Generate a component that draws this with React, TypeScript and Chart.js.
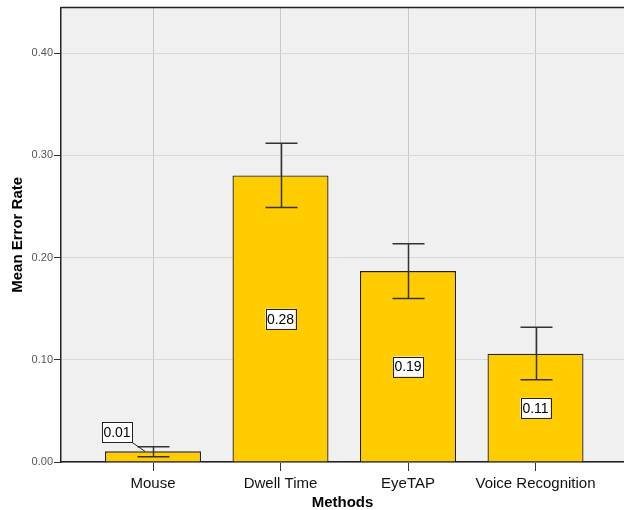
import React, { useEffect, useRef } from "react";
import { Chart, registerables } from "chart.js";

Chart.register(...registerables);

const categories = ["Mouse", "Dwell Time", "EyeTAP", "Voice Recognition"];
const means = [0.0104, 0.2803, 0.1868, 0.106];
const errLow = [0.0052, 0.249, 0.16, 0.0804];
const errHigh = [0.0149, 0.3118, 0.2135, 0.1318];
const yTicks = [0, 0.1, 0.2, 0.3, 0.4];

const FONT = "'Liberation Sans', Arial, sans-serif";

const bgPlugin = {
  id: "bgPlugin",
  beforeDraw(chart: any) {
    const { ctx, chartArea: a } = chart;
    ctx.save();
    ctx.fillStyle = "#f0f0f0";
    ctx.fillRect(a.left, a.top, a.right - a.left, a.bottom - a.top);
    ctx.restore();
  },
  afterDraw(chart: any) {
    const { ctx, chartArea: a } = chart;
    ctx.save();
    ctx.strokeStyle = "#222";
    ctx.lineWidth = 1.5;
    ctx.beginPath();
    ctx.moveTo(a.left, a.top);
    ctx.lineTo(a.right, a.top);
    ctx.stroke();
    ctx.restore();
  },
};

const errPlugin = {
  id: "errPlugin",
  afterDatasetsDraw(chart: any) {
    const { ctx } = chart;
    const xs = chart.scales.x;
    const ys = chart.scales.y;
    ctx.save();
    ctx.strokeStyle = "#333";
    ctx.lineWidth = 1.5;
    for (let i = 0; i < means.length; i++) {
      const x = Math.round(xs.getPixelForValue(i)) + 0.5;
      const yl = ys.getPixelForValue(errLow[i]);
      const yh = ys.getPixelForValue(errHigh[i]);
      ctx.beginPath();
      ctx.moveTo(x, yl);
      ctx.lineTo(x, yh);
      ctx.moveTo(x - 16, yl);
      ctx.lineTo(x + 16, yl);
      ctx.moveTo(x - 16, yh);
      ctx.lineTo(x + 16, yh);
      ctx.stroke();
    }
    // value labels
    ctx.font = "14px " + FONT;
    ctx.textAlign = "center";
    ctx.textBaseline = "middle";
    for (let i = 0; i < means.length; i++) {
      const text = means[i].toFixed(2);
      const bx = xs.getPixelForValue(i);
      let cx = bx;
      let cy = ys.getPixelForValue(means[i] / 2);
      const w = 30;
      const h = 20;
      if (i === 0) {
        const topY = ys.getPixelForValue(means[i]);
        cx = bx - 36;
        cy = topY - 19;
        ctx.strokeStyle = "#222";
        ctx.lineWidth = 1;
        ctx.beginPath();
        ctx.moveTo(cx + w / 2, cy + h / 2);
        ctx.lineTo(bx - 8, topY);
        ctx.stroke();
      }
      ctx.fillStyle = "#ffffff";
      ctx.fillRect(cx - w / 2, cy - h / 2, w, h);
      ctx.strokeStyle = "#222";
      ctx.lineWidth = 1;
      ctx.strokeRect(Math.round(cx - w / 2) + 0.5, Math.round(cy - h / 2) + 0.5, w, h);
      ctx.fillStyle = "#000";
      ctx.fillText(text, cx, cy + 1);
    }
    ctx.restore();
  },
};

export default function App() {
  const ref = useRef<HTMLCanvasElement | null>(null);
  useEffect(() => {
    if (!ref.current) return;
    const chart = new Chart(ref.current, {
      type: "bar",
      data: {
        datasets: [
          {
            data: means.map((m, i) => ({ x: i, y: m })),
            backgroundColor: "#ffcc00",
            borderColor: "#222222",
            borderWidth: 1.3,
            barPercentage: 0.753,
            categoryPercentage: 1,
          },
        ],
      },
      options: {
        animation: false,
        responsive: false,
        layout: { padding: { top: 7, left: 0, right: 0, bottom: 0 }, autoPadding: false },
        plugins: { legend: { display: false }, tooltip: { enabled: false } },
        scales: {
          x: {
            type: "linear",
            offset: false,
            min: -0.7216,
            max: 3.694,
            afterBuildTicks: (s: any) => {
              s.ticks = categories.map((_, i) => ({ value: i }));
            },
            afterFit: (s: any) => {
              s.height = 48;
            },
            ticks: {
              callback: (v: any) => categories[v as number] ?? "",
              font: { family: FONT, size: 15 },
              color: "#111",
              padding: 4,
              autoSkip: false,
              maxRotation: 0,
            },
            grid: {
              offset: false,
              color: "#c8c8c8",
              tickColor: "#333",
              tickLength: 9,
              lineWidth: 1,
            },
            border: { display: true, color: "#222", width: 1.5 },
            title: {
              display: true,
              text: "Methods",
              font: { family: FONT, size: 15, weight: "bold" },
              color: "#000",
              padding: { top: 0, bottom: -1.5 },
            },
          },
          y: {
            type: "linear",
            min: 0,
            max: 0.4446,
            afterBuildTicks: (s: any) => {
              s.ticks = yTicks.map((v) => ({ value: v }));
            },
            afterFit: (s: any) => {
              s.width = 61;
            },
            ticks: {
              callback: (v: any) => Number(v).toFixed(2),
              font: { family: FONT, size: 11 },
              color: "#555",
              padding: 1,
            },
            grid: {
              color: "#d8d8d8",
              tickColor: "#333",
              tickLength: 7,
              lineWidth: 1,
            },
            border: { display: true, color: "#222", width: 1.5 },
            title: {
              display: true,
              text: "Mean Error Rate",
              font: { family: FONT, size: 15, weight: "bold" },
              color: "#000",
              padding: { top: 9, bottom: 0 },
            },
          },
        },
      } as any,
      plugins: [bgPlugin, errPlugin],
    });
    return () => chart.destroy();
  }, []);
  return (
    <div style={{ position: "fixed", left: 0, top: 0, width: 624, height: 510, background: "#fff" }}>
      <canvas ref={ref} width={624} height={510} style={{ display: "block" }} />
    </div>
  );
}
